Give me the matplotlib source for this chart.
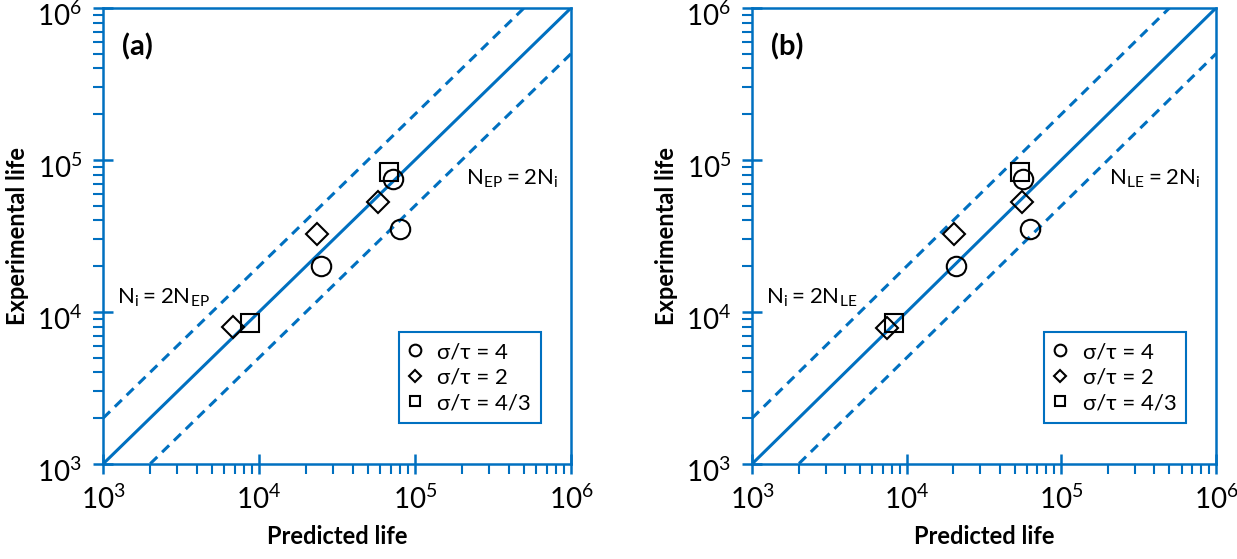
import numpy as np
import matplotlib
matplotlib.use("Agg")
import matplotlib.pyplot as plt
import matplotlib.transforms as mtrans
from matplotlib.ticker import LogLocator, NullFormatter

plt.rcParams['font.family'] = ['Lato', 'DejaVu Sans']
plt.rcParams['mathtext.default'] = 'regular'

BLUE = '#0070C0'

# (a) EP model
pred_a_circle = [72000, 80000, 25000]
exp_a_circle = [75000, 35000, 20000]
pred_a_diamond = [58000, 23500, 6800]
exp_a_diamond = [53000, 32500, 8000]
pred_a_square = [68000, 8700]
exp_a_square = [84000, 8500]

# (b) LE model
pred_b_circle = [56500, 62500, 20800]
exp_b_circle = [75000, 35000, 20000]
pred_b_diamond = [56000, 20200, 7500]
exp_b_diamond = [53000, 32500, 7900]
pred_b_square = [54000, 8300]
exp_b_square = [84000, 8500]

legend_labels = ['σ/τ = 4', 'σ/τ = 2', 'σ/τ = 4/3']
ref_line = [1e3, 1e6]

fig = plt.figure(figsize=(12.37, 5.59), dpi=100)
ax_a = fig.add_axes([103 / 1237, 95 / 559, 468 / 1237, 456 / 559])
ax_b = fig.add_axes([752 / 1237, 95 / 559, 464 / 1237, 456 / 559])


def draw_panel(ax, circ, diam, sq, tag, sub):
    ax.plot(ref_line, ref_line, color=BLUE, lw=2.2, zorder=2)
    ax.plot(ref_line, [2 * v for v in ref_line], color=BLUE, lw=2.2,
            ls=(0, (3.2, 2.2)), zorder=2)
    ax.plot(ref_line, [v / 2 for v in ref_line], color=BLUE, lw=2.2,
            ls=(0, (3.2, 2.2)), zorder=2)

    mk = dict(mfc='none', mec='black', mew=1.5, ls='none', zorder=3)
    h1, = ax.plot(circ[0], circ[1], 'o', ms=14, **mk)
    h2, = ax.plot(diam[0], diam[1], 'D', ms=11, **mk)
    h3, = ax.plot(sq[0], sq[1], 's', ms=13, **mk)

    ax.set_xscale('log')
    ax.set_yscale('log')
    ax.set_xlim(1e3, 1e6)
    ax.set_ylim(1e3, 1e6)

    for s in ax.spines.values():
        s.set_color(BLUE)
        s.set_linewidth(1.8)

    for axis in (ax.xaxis, ax.yaxis):
        axis.set_major_locator(LogLocator(base=10, numticks=10))
        axis.set_minor_locator(LogLocator(base=10, subs=np.arange(2, 10), numticks=10))
        axis.set_minor_formatter(NullFormatter())
    ax.tick_params(which='major', direction='inout', length=14, width=1.8,
                   color=BLUE, labelsize=20, pad=8, top=False, right=False)
    ax.tick_params(which='minor', direction='out', length=7, width=1.5,
                   color=BLUE, top=False, right=False)

    # y tick labels sit a little below their ticks in the original
    shift = mtrans.ScaledTranslation(0, -6 / 100, fig.dpi_scale_trans)
    for lab in ax.get_yticklabels():
        lab.set_transform(lab.get_transform() + shift)

    ax.set_xlabel('Predicted life', fontsize=17, fontweight='bold', labelpad=8)
    ax.set_ylabel('Experimental life', fontsize=17, fontweight='bold', labelpad=6)

    ax.text(0.04, 0.915, tag, transform=ax.transAxes, fontsize=21,
            fontweight='bold', va='center')
    ax.text(0.775 if sub == 'EP' else 0.77, 0.625,
            r'$N_{%s} = 2N_i$' % sub, transform=ax.transAxes,
            fontsize=16, va='center')
    ax.text(0.03, 0.365, r'$N_i = 2N_{%s}$' % sub,
            transform=ax.transAxes, fontsize=16, va='center')

    leg = ax.legend([h1, h2, h3], legend_labels, loc='lower right',
                    bbox_to_anchor=(0.96, 0.065), fontsize=16, markerscale=0.6,
                    handlelength=0.6, handletextpad=0.7, borderpad=0.45,
                    labelspacing=0.25, fancybox=False, framealpha=1)
    leg.get_frame().set_edgecolor(BLUE)
    leg.get_frame().set_linewidth(1.5)


draw_panel(ax_a, (pred_a_circle, exp_a_circle), (pred_a_diamond, exp_a_diamond),
           (pred_a_square, exp_a_square), '(a)', 'EP')
draw_panel(ax_b, (pred_b_circle, exp_b_circle), (pred_b_diamond, exp_b_diamond),
           (pred_b_square, exp_b_square), '(b)', 'LE')

fig.savefig('out.png', dpi=100)
